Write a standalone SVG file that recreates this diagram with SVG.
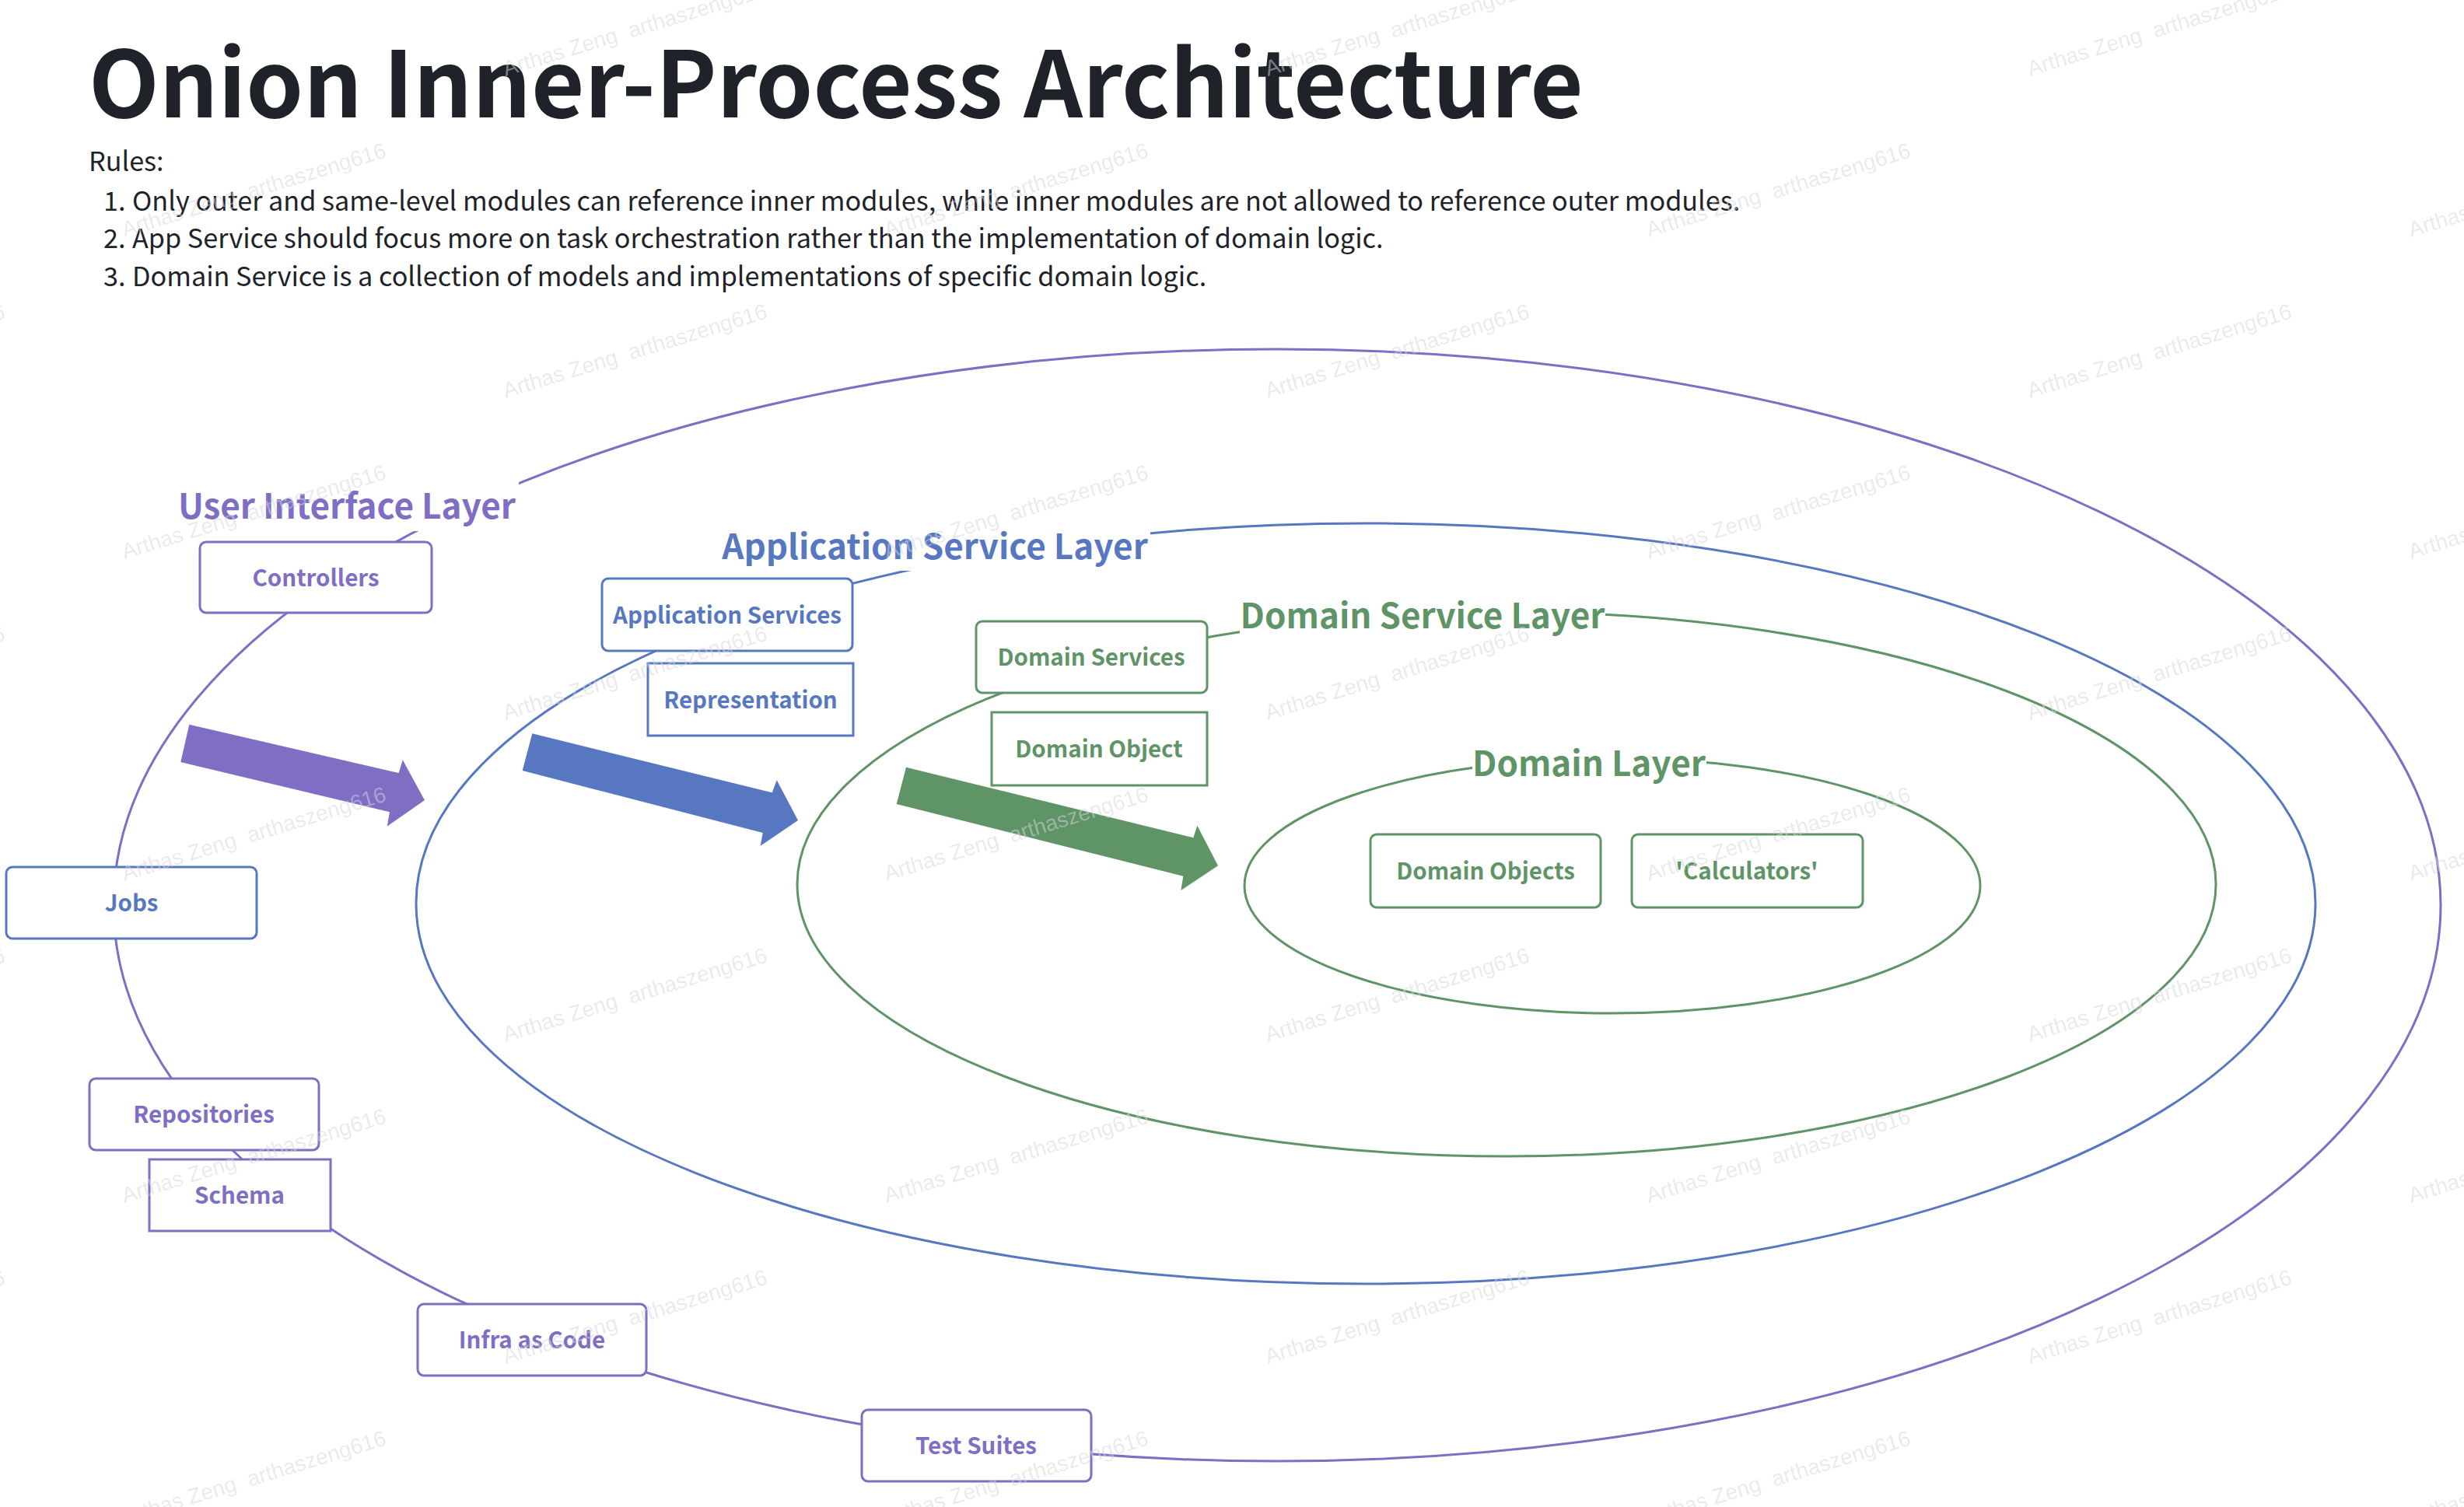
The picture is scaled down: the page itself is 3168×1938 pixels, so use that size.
<svg xmlns="http://www.w3.org/2000/svg" width="3168" height="1938" viewBox="0 0 3168 1938">
<defs>
<style>
text{font-family:"Noto Sans CJK SC","Source Sans Pro","Liberation Sans",sans-serif}
.title{font-size:118px;font-weight:700;fill:#1f2329}
.rule{font-size:34.2px;font-weight:400;fill:#1f2329}
.lbl{font-size:44px;font-weight:700;text-anchor:middle}
.bg{fill:#fff}
.box{fill:#fff;stroke-width:3}
.bt{font-size:29.5px;font-weight:700;text-anchor:middle}
.ring{fill:none;stroke-width:3}
.sp{stroke:#7f6ec4}.fp{fill:#7f6ec4}
.sb{stroke:#5778c1}.fb{fill:#5778c1}
.sg{stroke:#5f9566}.fg{fill:#5f9566}
.wm{font-family:"Liberation Sans",Arial,sans-serif;font-size:28px;fill:#d6d6dc;opacity:.5}
</style>
<pattern id="wmark" patternUnits="userSpaceOnUse" x="0" y="0" width="980" height="414" viewBox="2100 1500 980 414" patternTransform="translate(630,362)">
<text class="wm" transform="translate(2120,1650) rotate(-17)">Arthas Zeng <tspan dx="8">arthaszeng616</tspan></text>
<text class="wm" transform="translate(2610,1857) rotate(-17)">Arthas Zeng <tspan dx="8">arthaszeng616</tspan></text>
</pattern>
</defs>
<rect width="3168" height="1938" fill="#fff"/>

<g id="header">
<text class="title" x="114" y="151">Onion Inner-Process Architecture</text>
<text class="rule" x="114" y="220">Rules:</text>
<text class="rule" x="133" y="271">1.</text>
<text class="rule" x="170" y="271">Only outer and same-level modules can reference inner modules, while inner modules are not allowed to reference outer modules.</text>
<text class="rule" x="133" y="319">2.</text>
<text class="rule" x="170" y="319">App Service should focus more on task orchestration rather than the implementation of domain logic.</text>
<text class="rule" x="133" y="368">3.</text>
<text class="rule" x="170" y="368">Domain Service is a collection of models and implementations of specific domain logic.</text>
</g>

<g id="layer-ui">
<ellipse class="ring sp" cx="1642" cy="1164" rx="1496" ry="715"/>
</g>
<g id="layer-app">
<ellipse class="ring sb" cx="1756" cy="1162" rx="1221" ry="489"/>
</g>
<g id="layer-domain-service">
<ellipse class="ring sg" cx="1937" cy="1137" rx="912" ry="350"/>
</g>
<g id="layer-domain">
<ellipse class="ring sg" cx="2073" cy="1139" rx="473" ry="164"/>
</g>

<g id="connectors">
<polygon class="fp" points="243.3,931.7 512.7,994 517.7,977.3 546,1029 497.7,1062.7 501,1044.3 232.3,980"/>
<polygon class="fb" points="684.3,943.3 992.7,1019.3 998.7,1003.3 1026,1055 977.7,1087.7 980.7,1071 671.7,991"/>
<polygon class="fg" points="1165,986.7 1534.3,1077.3 1539.3,1061.7 1566,1113.3 1518.3,1145 1521.3,1126.7 1152.7,1034"/>
</g>

<g id="label-ui"><rect class="bg" x="226" y="620" width="441" height="63"/><text class="lbl fp" x="446" y="667">User Interface Layer</text></g>
<g id="label-app"><rect class="bg" x="925" y="678" width="554" height="56"/><text class="lbl fb" x="1202" y="719">Application Service Layer</text></g>
<g id="label-domain-service"><rect class="bg" x="1594" y="770" width="470" height="52"/><text class="lbl fg" x="1829" y="808">Domain Service Layer</text></g>
<g id="label-domain"><rect class="bg" x="1893" y="955" width="301" height="57"/><text class="lbl fg" x="2043" y="998">Domain Layer</text></g>

<g id="controllers"><rect class="box sp" x="257" y="697" width="298" height="91" rx="8"/><text class="bt fp" x="406" y="754">Controllers</text></g>
<g id="application-services"><rect class="box sb" x="774" y="744" width="322" height="93" rx="8"/><text class="bt fb" x="935" y="802">Application Services</text></g>
<g id="representation"><rect class="box sb" x="833" y="853" width="264" height="93"/><text class="bt fb" x="965" y="911">Representation</text></g>
<g id="jobs"><rect class="box sb" x="8" y="1115" width="322" height="92" rx="8"/><text class="bt fb" x="169" y="1172">Jobs</text></g>
<g id="repositories"><rect class="box sp" x="115" y="1387" width="295" height="92" rx="8"/><text class="bt fp" x="262" y="1444">Repositories</text></g>
<g id="schema"><rect class="box sp" x="192" y="1491" width="233" height="92"/><text class="bt fp" x="308" y="1548">Schema</text></g>
<g id="infra-as-code"><rect class="box sp" x="537" y="1677" width="294" height="92" rx="8"/><text class="bt fp" x="684" y="1734">Infra as Code</text></g>
<g id="test-suites"><rect class="box sp" x="1108" y="1813" width="295" height="92" rx="8"/><text class="bt fp" x="1255" y="1870">Test Suites</text></g>
<g id="domain-services"><rect class="box sg" x="1255" y="799" width="297" height="92" rx="8"/><text class="bt fg" x="1403" y="856">Domain Services</text></g>
<g id="domain-object"><rect class="box sg" x="1275" y="916" width="277" height="94"/><text class="bt fg" x="1413" y="974">Domain Object</text></g>
<g id="domain-objects"><rect class="box sg" x="1762" y="1073" width="296" height="94" rx="8"/><text class="bt fg" x="1910" y="1131">Domain Objects</text></g>
<g id="calculators"><rect class="box sg" x="2098" y="1073" width="297" height="94" rx="8"/><text class="bt fg" x="2246" y="1131">'Calculators'</text></g>

<rect id="watermark" width="3168" height="1938" fill="url(#wmark)"/>
</svg>
